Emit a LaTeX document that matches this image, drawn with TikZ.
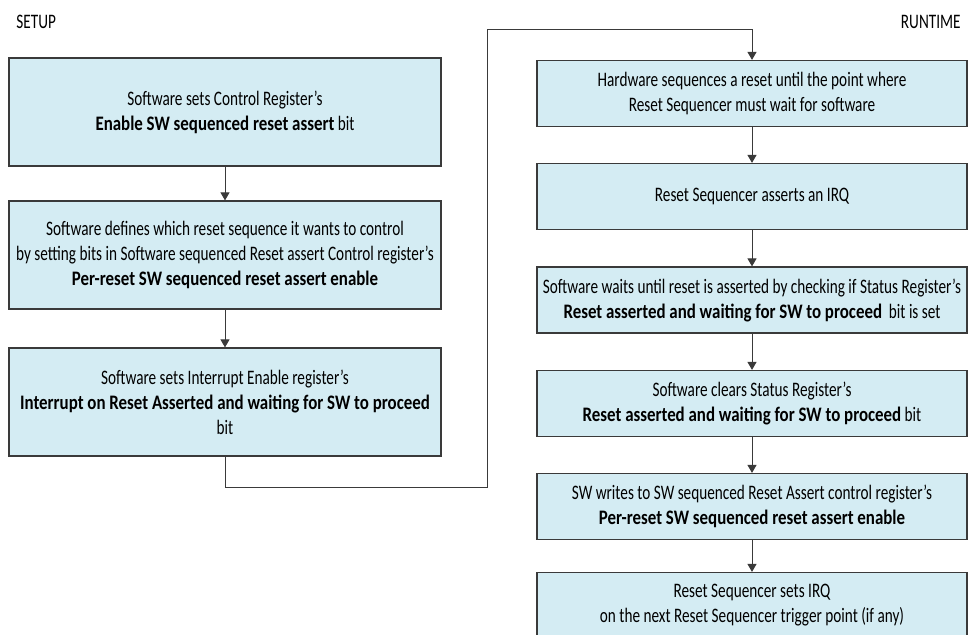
\documentclass[tikz,border=0pt]{standalone}
\usepackage{fontspec}
\setmainfont{Carlito}[FakeStretch=0.74, BoldFeatures={FakeStretch=0.82}]
\usetikzlibrary{arrows.meta, positioning}
\definecolor{stepfill}{HTML}{D4ECF3}
\definecolor{stepline}{HTML}{3A3A3A}
\tikzset{
  stepbox/.style={
    draw=stepline,
    fill=stepfill,
    line width=0.6pt,
    align=center,
    inner sep=0pt,
    font=\fontsize{10.3}{12.5}\selectfont
  },
  setup box/.style={
    stepbox,
    minimum width=216pt,
    minimum height=54pt
  },
  runtime box/.style={
    stepbox,
    minimum width=215pt,
    minimum height=33pt
  },
  flow/.style={
    -{Triangle[width=4.5pt, length=4pt]},
    line width=0.5pt,
    color=stepline
  },
  phase label/.style={
    font=\fontsize{10.3}{12}\selectfont,
    inner sep=0pt
  }
}

\begin{document}
\begin{tikzpicture}[x=0.5pt, y=0.5pt]
    \useasboundingbox (0, 0) rectangle (968, 634);
    \clip (0, 0) rectangle (968, 634);

    % SETUP column
    \node[phase label, anchor=west] (setup) at (16, 612) {SETUP};
    \node[setup box] (s1) at (225, 522) {Software sets Control Register’s\\ \textbf{Enable SW sequenced reset assert} bit};
    \node[setup box] (s2) at (225, 379) {Software defines which reset sequence it wants to control\\ by setting bits in Software sequenced Reset assert Control register’s\\ \textbf{Per-reset SW sequenced reset assert enable}};
    \node[setup box] (s3) at (225, 232) {Software sets Interrupt Enable register’s\\ \textbf{Interrupt on Reset Asserted and waiting for SW to proceed}\\ bit};

    \draw[flow] (s1) -- (s2);
    \draw[flow] (s2) -- (s3);

    % RUNTIME column
    \node[phase label, anchor=east] (runtime) at (961, 612) {RUNTIME};
    \node[runtime box] (r1) at (752, 540.5) {Hardware sequences a reset until the point where\\ Reset Sequencer must wait for software};
    \node[runtime box] (r2) at (752, 437.5) {Reset Sequencer asserts an IRQ};
    \node[runtime box] (r3) at (752, 334) {Software waits until reset is asserted by checking if Status Register’s\\ \textbf{Reset asserted and waiting for SW to proceed}\ \ bit is set};
    \node[runtime box] (r4) at (752, 230.5) {Software clears Status Register’s\\ \textbf{Reset asserted and waiting for SW to proceed} bit};
    \node[runtime box] (r5) at (752, 127.5) {SW writes to SW sequenced Reset Assert control register’s\\ \textbf{Per-reset SW sequenced reset assert enable}};
    \node[runtime box] (r6) at (752, 28.5) {Reset Sequencer sets IRQ\\ on the next Reset Sequencer trigger point (if any)};

    \draw[flow] (r1) -- (r2);
    \draw[flow] (r2) -- (r3);
    \draw[flow] (r3) -- (r4);
    \draw[flow] (r4) -- (r5);
    \draw[flow] (r5) -- (r6);

    % hand-over from setup to runtime
    \coordinate (turn low) at (487, 147);
    \coordinate (turn high) at (487, 605);
    \draw[flow] (s3.south) |- (turn low) -- (turn high) -| (r1.north);
\end{tikzpicture}
\end{document}
